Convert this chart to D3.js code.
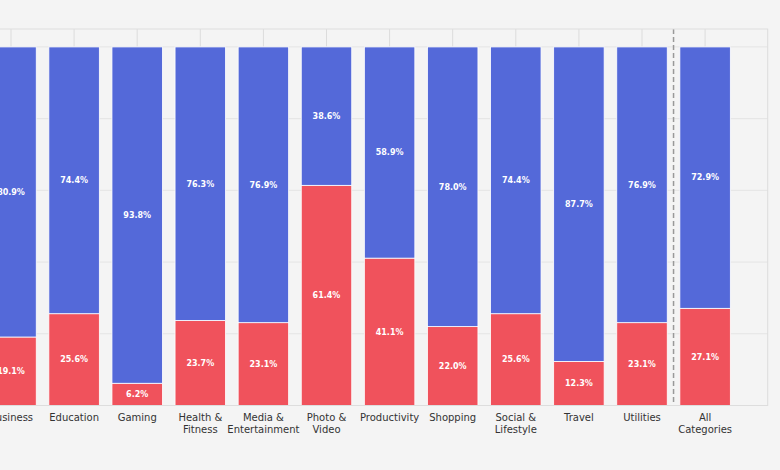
<!DOCTYPE html>
<html lang="en">
<head>
<meta charset="UTF-8">
<title>Share by category</title>
<script src="https://d3js.org/d3.v7.min.js"></script>
<style>
    body { margin: 0; background: #f4f4f4; }
    text { font-family: "DejaVu Sans", sans-serif; }
</style>
</head>
<body>
<script>
    // categories (two-line labels split on \n)
    const categories = ["Business", "Education", "Gaming", "Health &\nFitness", "Media &\nEntertainment",
        "Photo &\nVideo", "Productivity", "Shopping", "Social &\nLifestyle", "Travel", "Utilities", "All\nCategories"];
    const redShare  = [19.1, 25.6, 6.2, 23.7, 23.1, 61.4, 41.1, 22.0, 25.6, 12.3, 23.1, 27.1];
    const blueShare = [80.9, 74.4, 93.8, 76.3, 76.9, 38.6, 58.9, 78.0, 74.4, 87.7, 76.9, 72.9];
    const yTicks = [0, 20, 40, 60, 80, 100];

    const width = 780, height = 470;
    const plotLeft = -52, plotRight = 767.7, plotTop = 29, plotBottom = 405.5;

    const svg = d3.select("body").append("svg")
        .attr("width", width)
        .attr("height", height);

    svg.append("rect").attr("width", width).attr("height", height).attr("fill", "#f4f4f4");

    // x: step 63.1, first center at 11
    const step = 63.1;
    const x = d3.scaleBand()
        .domain(categories)
        .range([11 - step / 2, 11 + step * (categories.length - 0.5)])
        .paddingInner(0.2)
        .paddingOuter(0.1);

    const y = d3.scaleLinear().domain([0, 105]).range([plotBottom, plotTop]);

    // horizontal grid
    svg.append("g").selectAll("line").data(yTicks).join("line")
        .attr("x1", plotLeft).attr("x2", plotRight)
        .attr("y1", d => y(d)).attr("y2", d => y(d))
        .attr("stroke", "#e4e4e4").attr("stroke-width", 1);

    // vertical grid at category centers
    svg.append("g").selectAll("line").data(categories).join("line")
        .attr("x1", d => x(d) + x.bandwidth() / 2).attr("x2", d => x(d) + x.bandwidth() / 2)
        .attr("y1", plotTop).attr("y2", plotBottom)
        .attr("stroke", "#dcdcdc").attr("stroke-width", 1);

    // stacked bars
    const bars = svg.append("g").selectAll("g").data(categories).join("g");

    bars.append("rect")
        .attr("x", d => x(d))
        .attr("width", x.bandwidth())
        .attr("y", (d, i) => y(redShare[i]))
        .attr("height", (d, i) => y(0) - y(redShare[i]))
        .attr("fill", "#f0525c")
        .attr("stroke", "#ffffff").attr("stroke-width", 0.8);

    bars.append("rect")
        .attr("x", d => x(d))
        .attr("width", x.bandwidth())
        .attr("y", (d, i) => y(redShare[i] + blueShare[i]))
        .attr("height", (d, i) => y(redShare[i]) - y(redShare[i] + blueShare[i]))
        .attr("fill", "#5469d9")
        .attr("stroke", "#ffffff").attr("stroke-width", 0.8);

    bars.append("text")
        .attr("x", d => x(d) + x.bandwidth() / 2)
        .attr("y", (d, i) => y(redShare[i] / 2))
        .attr("dy", "0.35em")
        .attr("text-anchor", "middle")
        .attr("fill", "#ffffff").attr("font-size", 8).attr("font-weight", "bold")
        .text((d, i) => redShare[i].toFixed(1) + "%");

    bars.append("text")
        .attr("x", d => x(d) + x.bandwidth() / 2)
        .attr("y", (d, i) => y(redShare[i] + blueShare[i] / 2))
        .attr("dy", "0.35em")
        .attr("text-anchor", "middle")
        .attr("fill", "#ffffff").attr("font-size", 8).attr("font-weight", "bold")
        .text((d, i) => blueShare[i].toFixed(1) + "%");

    // dashed separator before "All Categories"
    const last = categories[categories.length - 1];
    const sepX = x(last) - x.step() * x.paddingInner() / 2;
    svg.append("line")
        .attr("x1", sepX).attr("x2", sepX)
        .attr("y1", plotTop).attr("y2", plotBottom)
        .attr("stroke", "#999999").attr("stroke-width", 1.5)
        .attr("stroke-dasharray", "5,3");

    // plot frame
    svg.append("rect")
        .attr("x", plotLeft).attr("y", plotTop)
        .attr("width", plotRight - plotLeft).attr("height", plotBottom - plotTop)
        .attr("fill", "none").attr("stroke", "#dddddd").attr("stroke-width", 1);

    // x axis labels
    const xAxis = svg.append("g")
        .attr("transform", `translate(0,${plotBottom})`)
        .call(d3.axisBottom(x).tickSize(0).tickFormat(""));
    xAxis.select(".domain").remove();

    xAxis.selectAll(".tick").append("text")
        .attr("text-anchor", "middle")
        .attr("fill", "#333333").attr("font-size", 10)
        .selectAll("tspan")
        .data(d => d.split("\n"))
        .join("tspan")
        .attr("x", 0)
        .attr("y", (d, i) => 15 + i * 12.5)
        .text(d => d);
</script>
</body>
</html>
